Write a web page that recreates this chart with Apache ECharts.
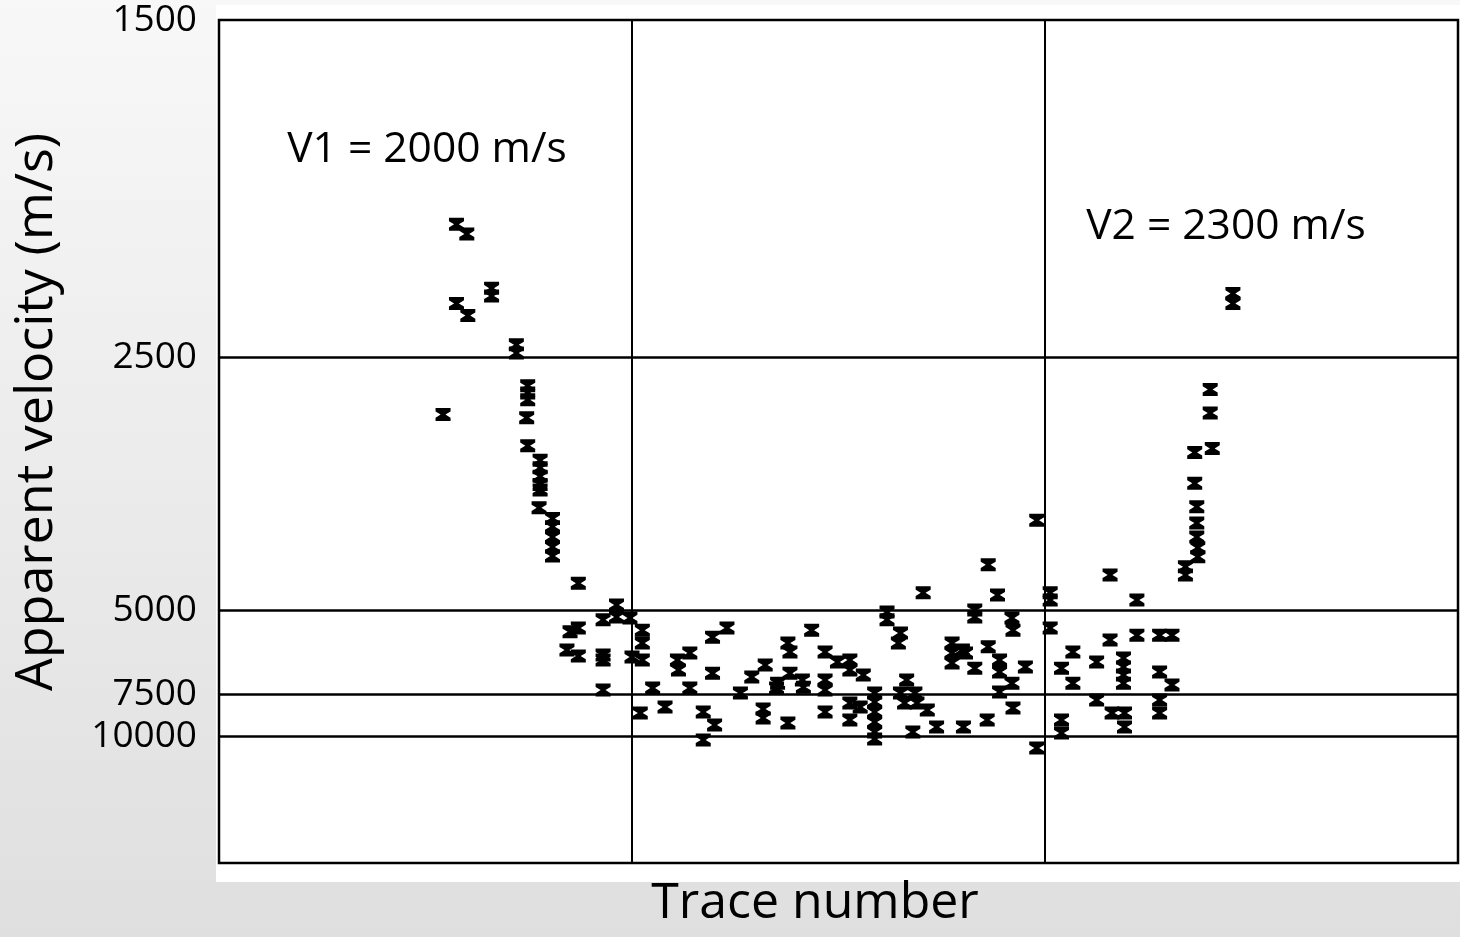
<!DOCTYPE html>
<html>
<head>
<meta charset="utf-8">
<script src="https://cdn.jsdelivr.net/npm/echarts@6/dist/echarts.min.js"></script>
<style>
html,body{margin:0;padding:0;}
#chart{width:1460px;height:937px;}
</style>
</head>
<body>
<div id="chart"></div>
<script>
// Tick labels (apparent velocity, m/s)
const tickVelocities = [1500, 2500, 5000, 7500, 10000];
// Trace number of each pick
const traces = [
  23.0, 24.0, 23.0, 24.1, 26.4, 26.4, 28.8, 28.8, 21.7, 29.9,
  29.9, 29.9, 29.8, 29.9, 31.1, 31.1, 31.1, 31.1, 31.1, 31.0,
  32.3, 32.3, 32.3, 32.3, 32.3, 34.8, 34.0, 34.8, 33.7, 34.8,
  37.2, 38.5, 38.5, 39.8, 37.2, 37.2, 41.0, 41.0, 40.0, 41.0,
  37.2, 42.0, 40.8, 43.2, 44.4, 44.5, 45.6, 47.8, 49.2, 47.8,
  45.6, 46.9, 48.0, 46.9, 50.5, 51.6, 52.9, 52.7, 52.7, 54.0,
  55.1, 55.3, 57.4, 58.7, 59.9, 61.1, 61.1, 62.4, 55.3, 56.5,
  54.1, 56.6, 58.7, 58.7, 58.7, 55.1, 61.1, 62.1, 61.1, 63.5,
  63.5, 63.5, 63.5, 63.5, 63.5, 66.6, 66.0, 67.4, 66.4, 67.6,
  68.6, 67.2, 69.5, 72.1, 71.0, 71.0, 71.0, 72.0, 68.2, 64.7,
  64.7, 66.0, 65.8, 79.2, 74.5, 75.4, 73.2, 73.2, 76.8, 76.9,
  80.5, 80.5, 80.5, 72.3, 73.2, 74.5, 75.6, 75.6, 78.1, 76.8,
  75.6, 81.6, 82.7, 82.7, 85.0, 85.0, 76.9, 74.4, 81.6, 81.6,
  79.2, 94.8, 94.8, 93.6, 93.6, 86.3, 88.9, 86.3, 88.9, 91.1,
  92.3, 87.6, 87.6, 87.6, 87.6, 91.1, 92.3, 86.5, 87.7, 87.7,
  91.1, 91.1, 98.2, 98.2, 96.0, 96.0, 94.5, 96.2, 94.5, 94.7,
  94.7, 94.7
];
// Apparent velocity (m/s) of each pick
const velocities = [
  1980, 2010, 2260, 2310, 2200, 2230, 2440, 2480, 2820, 2650,
  2690, 2730, 2840, 3030, 3140, 3200, 3270, 3340, 3390, 3560,
  3670, 3760, 3880, 4000, 4120, 4520, 5470, 5380, 5940, 6110,
  5200, 4900, 5140, 5160, 6080, 6230, 5430, 5750, 6140, 6230,
  7310, 7230, 8430, 8110, 6230, 6550, 6020, 5600, 5380, 6660,
  7230, 8370, 9160, 10280, 7440, 6800, 6390, 8210, 8720, 7230,
  5750, 5990, 5430, 5990, 6290, 6230, 6550, 6730, 6660, 6910,
  7030, 7190, 6910, 7310, 8370, 9030, 7900, 8110, 8840, 7440,
  7850, 8370, 8970, 9650, 10200, 6910, 7440, 7440, 7900, 7900,
  8270, 9650, 9300, 9300, 5750, 6020, 6320, 5940, 4680, 5040,
  5200, 5500, 5750, 3690, 4240, 4720, 5000, 5140, 5160, 5430,
  4680, 4810, 5380, 6020, 6490, 5850, 6230, 6620, 6450, 7030,
  7400, 6490, 5990, 7030, 6290, 7760, 8160, 8840, 8840, 9730,
  11000, 4010, 4130, 4270, 4390, 4390, 4810, 5670, 5550, 5550,
  5550, 6170, 6450, 6730, 7030, 6620, 7100, 8430, 8430, 9300,
  7760, 8430, 2220, 2260, 2670, 2810, 3080, 3050, 3330, 3550,
  3720, 3880
];
const annotations = [
  { text: 'V1 = 2000 m/s', x: 427, y: 150 },
  { text: 'V2 = 2300 m/s', x: 1226, y: 227 }
];
const xTitle = 'Trace number';
const yTitle = 'Apparent velocity (m/s)';

// plotted as slowness (µs/m) so the axis matches the original reciprocal scale
const toSlow = v => 1e6 / v;
const points = traces.map((t, i) => [t, toSlow(velocities[i])]);
const font = '"Open Sans", "DejaVu Sans", sans-serif';
const hourglass = 'path://M0,0H10V2.6L6.6,5L10,7.4V10H0V7.4L3.4,5L0,2.6Z';

const chart = echarts.init(document.getElementById('chart'));
chart.setOption({
  animation: false,
  backgroundColor: {
    type: 'linear', x: 0, y: 0, x2: 0, y2: 1,
    colorStops: [{ offset: 0, color: '#f8f8f8' }, { offset: 1, color: '#dfdfdf' }]
  },
  grid: {
    left: 219, right: 2, top: 20, bottom: 74,
    show: true, borderColor: '#000', borderWidth: 2.5, backgroundColor: '#fff'
  },
  graphic: [
    { type: 'rect', z: -100, shape: { x: 216, y: 5, width: 1244, height: 877 }, style: { fill: '#fff' } },
    {
      type: 'text', x: 37, y: 412, rotation: Math.PI / 2,
      style: { text: yTitle, font: '52px ' + font, fill: '#000', align: 'center', verticalAlign: 'middle' }
    },
    {
      type: 'text', x: 815, y: 904,
      style: { text: xTitle, font: '50px ' + font, fill: '#000', align: 'center', verticalAlign: 'middle' }
    }
  ].concat(annotations.map(a => ({
    type: 'text', x: a.x, y: a.y,
    style: { text: a.text, font: '42.5px ' + font, fill: '#000', align: 'center', verticalAlign: 'middle' }
  }))),
  xAxis: {
    type: 'value', min: 0, max: 120, interval: 40,
    axisLine: { show: false }, axisTick: { show: false }, axisLabel: { show: false },
    splitLine: { show: true, lineStyle: { color: '#000', width: 2 } }
  },
  yAxis: {
    type: 'value', min: 0, max: toSlow(tickVelocities[0]),
    axisLine: { show: false },
    axisTick: { show: false },
    splitLine: { show: false },
    axisLabel: {
      show: true,
      customValues: tickVelocities.map(toSlow),
      formatter: v => String(Math.round(1e6 / v)),
      fontFamily: font, fontSize: 37, color: '#000', margin: 22
    }
  },
  series: [{
    type: 'scatter',
    data: points,
    symbol: hourglass,
    symbolSize: [15, 13],
    itemStyle: { color: '#000', opacity: 1 },
    markLine: {
      silent: true, symbol: 'none', animation: false,
      label: { show: false },
      lineStyle: { color: '#000', width: 2.5, type: 'solid' },
      data: tickVelocities.slice(1).map(v => ({ yAxis: toSlow(v) }))
    }
  }]
});
</script>
</body>
</html>
